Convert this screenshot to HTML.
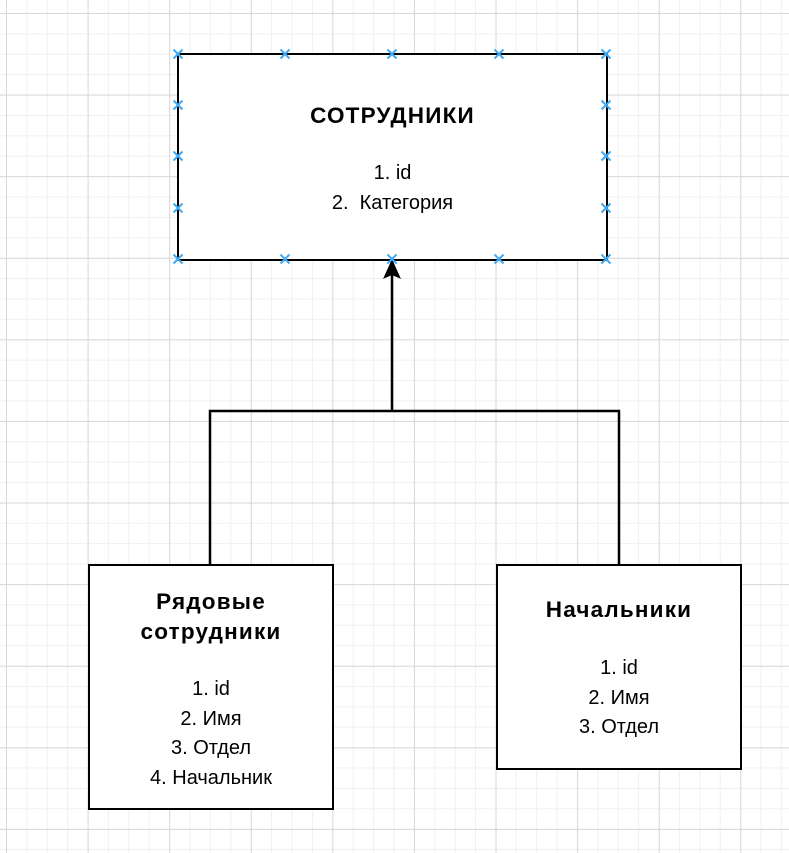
<!DOCTYPE html><html><head><style>
body{margin:0;width:789px;height:853px;overflow:hidden;background:#fff;
background-image:linear-gradient(#d8d8d8 1px,transparent 1px),linear-gradient(90deg,#d8d8d8 1px,transparent 1px),linear-gradient(#f0f0f0 1px,transparent 1px),linear-gradient(90deg,#f0f0f0 1px,transparent 1px);
background-size:81.6px 81.6px,81.6px 81.6px,20.4px 20.4px,20.4px 20.4px;
background-position:6px 13px,6px 13px,6px 13px,6px 13px;font-family:"Liberation Sans",sans-serif;}
.b{position:absolute;border:2px solid #000;background:#fff;box-sizing:border-box;}
.t{position:absolute;left:0;right:0;text-align:center;font-size:20px;line-height:29.5px;}
.h{font-weight:bold;font-size:22.5px;letter-spacing:1.2px;line-height:30px;}
</style></head><body>
<svg width="789" height="853" style="position:absolute;left:0;top:0">
<path d="M392 411V268M210 565V411H619V565" fill="none" stroke="#000" stroke-width="2.5"/>
<polygon points="392,259 383,279 392,275 401,279" fill="#000"/>
</svg>
<div class="b" style="left:177px;top:53px;width:431px;height:208px">
<div class="t h" style="top:46px">СОТРУДНИКИ</div>
<div class="t" style="top:104px">1. id<br>2.&nbsp; Категория</div></div>
<div class="b" style="left:88px;top:564px;width:246px;height:246px">
<div class="t h" style="top:21px">Рядовые<br>сотрудники</div>
<div class="t" style="top:109px">1. id<br>2. Имя<br>3. Отдел<br>4. Начальник</div></div>
<div class="b" style="left:496px;top:564px;width:246px;height:206px">
<div class="t h" style="top:29px">Начальники</div>
<div class="t" style="top:88px">1. id<br>2. Имя<br>3. Отдел</div></div>
<svg width="789" height="853" style="position:absolute;left:0;top:0" stroke="#3fa9f5" stroke-width="2">
<defs><path id="x" d="M-4.5-4.5L4.5 4.5M4.5-4.5L-4.5 4.5"/></defs>
<use href="#x" x="178" y="54"/><use href="#x" x="285" y="54"/><use href="#x" x="392" y="54"/><use href="#x" x="499" y="54"/><use href="#x" x="606" y="54"/>
<use href="#x" x="178" y="259"/><use href="#x" x="285" y="259"/><use href="#x" x="392" y="259"/><use href="#x" x="499" y="259"/><use href="#x" x="606" y="259"/>
<use href="#x" x="178" y="105"/><use href="#x" x="178" y="156"/><use href="#x" x="178" y="208"/>
<use href="#x" x="606" y="105"/><use href="#x" x="606" y="156"/><use href="#x" x="606" y="208"/>
</svg>
</body></html>
